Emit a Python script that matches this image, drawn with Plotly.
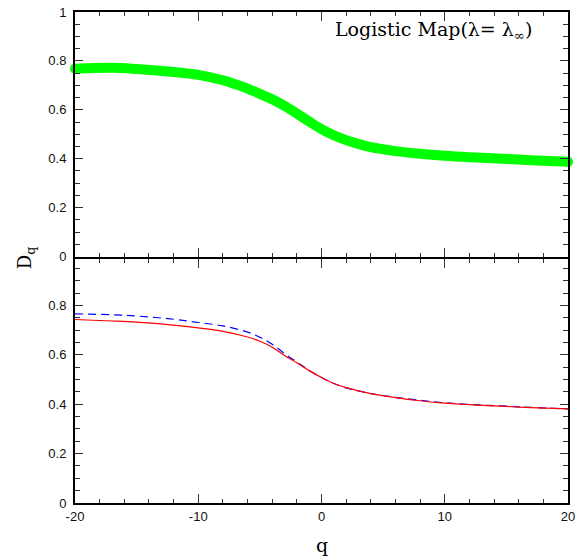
import plotly.graph_objects as go
from plotly.subplots import make_subplots

# ---- data ----
q_top = [-20, -17, -15, -12, -10, -8, -7, -6, -5, -4, -3, -2, -1, 0, 1, 2, 3, 4, 6, 8, 10, 12, 15, 17, 20]
dq_top = [0.768, 0.772, 0.767, 0.755, 0.743, 0.721, 0.705, 0.687, 0.665, 0.643, 0.616, 0.585, 0.552, 0.521,
          0.496, 0.476, 0.460, 0.447, 0.431, 0.420, 0.412, 0.406, 0.399, 0.394, 0.388]

q_bot = [-20, -17, -15, -12, -10, -8, -6, -5, -4, -3, -2, -1, 0, 1, 2, 4, 6, 8, 10, 12, 15, 17, 20]
dq_red = [0.743, 0.737, 0.732, 0.720, 0.709, 0.695, 0.672, 0.655, 0.631, 0.597, 0.568, 0.536,
          0.508, 0.484, 0.467, 0.443, 0.427, 0.414, 0.404, 0.398, 0.391, 0.386, 0.381]
dq_blue = [0.766, 0.762, 0.757, 0.744, 0.731, 0.717, 0.692, 0.671, 0.643, 0.605, 0.571, 0.537,
           0.508, 0.484, 0.466, 0.443, 0.428, 0.416, 0.406, 0.399, 0.392, 0.387, 0.381]

x_major = [-20, -10, 0, 10, 20]
x_labels = ["-20", "-10", "0", "10", "20"]
y_major = [0, 0.2, 0.4, 0.6, 0.8, 1]
y_labels = ["0", "0.2", "0.4", "0.6", "0.8", "1"]

fig = make_subplots(rows=2, cols=1, shared_xaxes=True, vertical_spacing=2 / 491)

fig.add_trace(go.Scatter(x=q_top, y=dq_top, mode="lines", line=dict(color="#00ff00", width=10, shape="spline"),
                         showlegend=False), row=1, col=1)
fig.add_trace(go.Scatter(x=[q_top[0], q_top[-1]], y=[dq_top[0], dq_top[-1]], mode="markers",
                         marker=dict(color="#00ff00", size=10), cliponaxis=False, showlegend=False), row=1, col=1)

fig.add_trace(go.Scatter(x=q_bot, y=dq_blue, mode="lines",
                         line=dict(color="#0000ff", width=1.2, dash="8px,5px", shape="spline"),
                         showlegend=False), row=2, col=1)
fig.add_trace(go.Scatter(x=q_bot, y=dq_red, mode="lines",
                         line=dict(color="#ff0000", width=1.2, shape="spline"),
                         showlegend=False), row=2, col=1)

tickfont = dict(family="Liberation Sans, Arial, sans-serif", size=13, color="#111")
xcommon = dict(range=[-20, 20], showline=True, linecolor="black", linewidth=2, mirror="allticks",
               ticks="inside", ticklen=9, tickwidth=1, tickcolor="#333", automargin=False,
               tickvals=x_major, ticktext=x_labels, showgrid=False, zeroline=False,
               minor=dict(dtick=2, tick0=0, ticks="inside", ticklen=4, tickcolor="#333", showgrid=False),
               tickfont=tickfont)
ycommon = dict(showline=True, linecolor="black", linewidth=2, mirror="allticks",
               ticks="inside", ticklen=8, tickwidth=1, tickcolor="#333", automargin=False,
               tickvals=y_major, ticktext=y_labels, showgrid=False, zeroline=False,
               minor=dict(dtick=0.05, tick0=0, ticks="inside", ticklen=5, tickcolor="#333", showgrid=False),
               tickfont=tickfont, ticklabelstandoff=4)

fig.update_xaxes(**xcommon)
fig.update_xaxes(showticklabels=False, row=1, col=1)
fig.update_xaxes(showticklabels=True, row=2, col=1)
fig.update_yaxes(**ycommon)
fig.update_yaxes(range=[0, 1], row=1, col=1)
fig.update_yaxes(range=[0, 0.99], row=2, col=1)

serif = "DejaVu Serif, Liberation Serif, serif"
fig.add_annotation(text="Logistic Map(λ= λ<sub>∞</sub>)", xref="paper", yref="paper",
                   x=0.523, y=0.963, xanchor="left", yanchor="middle", showarrow=False,
                   font=dict(family=serif, size=19, color="black"))
fig.add_annotation(text="D<sub>q</sub>", xref="paper", yref="paper", x=-0.1, y=0.5,
                   xanchor="center", yanchor="middle", textangle=-90, showarrow=False,
                   font=dict(family=serif, size=18, color="black"))
fig.add_annotation(text="q", xref="paper", yref="paper", x=0.5, y=-0.085,
                   xanchor="center", yanchor="middle", showarrow=False,
                   font=dict(family=serif, size=19, color="black"))

fig.update_layout(width=579, height=558, margin=dict(l=75, r=11, t=12, b=55, autoexpand=False),
                  plot_bgcolor="white", paper_bgcolor="white")

fig.write_html("out.html", config={"displayModeBar": False},
               post_script="document.body.style.margin='0';document.documentElement.style.overflow='hidden';")
